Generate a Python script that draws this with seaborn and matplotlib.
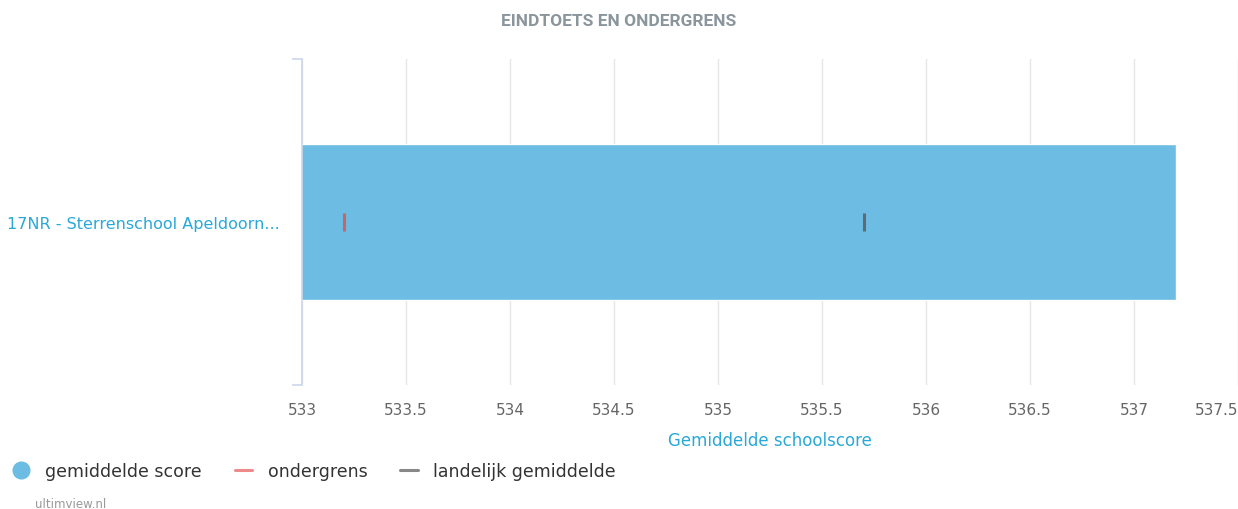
import matplotlib
matplotlib.use("Agg")
import matplotlib.pyplot as plt
import seaborn as sns
import pandas as pd
from matplotlib.lines import Line2D
from matplotlib.ticker import FixedLocator

# --- data ---
schools = ["17NR - Sterrenschool Apeldoorn..."]
gemiddelde_score = [537.2]
ondergrens = [533.2]
landelijk_gemiddelde = [535.7]
x_ticks = [533, 533.5, 534, 534.5, 535, 535.5, 536, 536.5, 537, 537.5]

# colours
BAR_COLOR = "#6cbce3"
RED = "#cf6363"
GREY = "#5f6b73"
LINK_BLUE = "#2aa8d8"

df = pd.DataFrame({
    "school": schools,
    "score": gemiddelde_score,
    "ondergrens": ondergrens,
    "landelijk": landelijk_gemiddelde,
})

sns.set_theme(style="white")
plt.rcParams["font.family"] = ["DejaVu Sans"]

fig = plt.figure(figsize=(12.38, 5.10), dpi=100)
ax = fig.add_axes([302 / 1238, 1 - 386 / 510, 1 - 302 / 1238, 326 / 510])

sns.barplot(data=df, x="score", y="school", orient="h", color=BAR_COLOR,
            saturation=1, width=0.48, ax=ax, zorder=2)

# markers for ondergrens / landelijk gemiddelde
ax.scatter(df["ondergrens"], df["school"], marker="|", s=170, linewidths=2.2,
           color=RED, zorder=3)
ax.scatter(df["landelijk"], df["school"], marker="|", s=170, linewidths=2.2,
           color=GREY, zorder=3)

ax.set_xticks(x_ticks)
ax.set_xticklabels([f"{t:g}" for t in x_ticks])
ax.set_xlim(x_ticks[0], x_ticks[-1])
ax.set_ylim(0.5, -0.5)
ax.grid(axis="x", color="#e6e6e6", linewidth=1, zorder=0)
ax.set_axisbelow(True)

for s in ["top", "right", "bottom"]:
    ax.spines[s].set_visible(False)
ax.spines["left"].set_color("#ccd6eb")
ax.spines["left"].set_linewidth(1.2)

ax.tick_params(axis="x", length=0, pad=12, labelsize=11, labelcolor="#666666")
ax.tick_params(axis="y", which="major", length=0, pad=16, labelsize=11.5,
               labelcolor=LINK_BLUE)
ax.yaxis.set_minor_locator(FixedLocator([-0.5, 0.5]))
ax.tick_params(axis="y", which="minor", left=True, length=7, width=1.2,
               color="#ccd6eb")
ax.get_xticklabels()[-1].set_horizontalalignment("right")

ax.set_xlabel("Gemiddelde schoolscore", color=LINK_BLUE, fontsize=12, labelpad=10)
ax.set_ylabel("")

fig.text(0.5, 1 - 22 / 510, "EINDTOETS EN ONDERGRENS", ha="center", va="center",
         fontsize=12.5, fontweight="bold", color="#8a959c", family=["Roboto", "DejaVu Sans"])

handles = [
    Line2D([], [], marker="o", linestyle="none", markersize=12,
           markerfacecolor=BAR_COLOR, markeredgecolor=BAR_COLOR),
    Line2D([], [], color="#ee8a8a", linewidth=2.2),
    Line2D([], [], color="#888888", linewidth=2.2),
]
fig.legend(handles, ["gemiddelde score", "ondergrens", "landelijk gemiddelde"],
           loc="center left", bbox_to_anchor=(0.0, 1 - 472 / 510), ncol=3,
           frameon=False, fontsize=12.5, handlelength=1.0, handletextpad=0.9,
           columnspacing=1.9, labelcolor="#333333", borderaxespad=0.3)

fig.text(35 / 1238, 1 - 505 / 510, "ultimview.nl", ha="left", va="center",
         fontsize=8.5, color="#999999")

fig.savefig("out.png", dpi=100)
